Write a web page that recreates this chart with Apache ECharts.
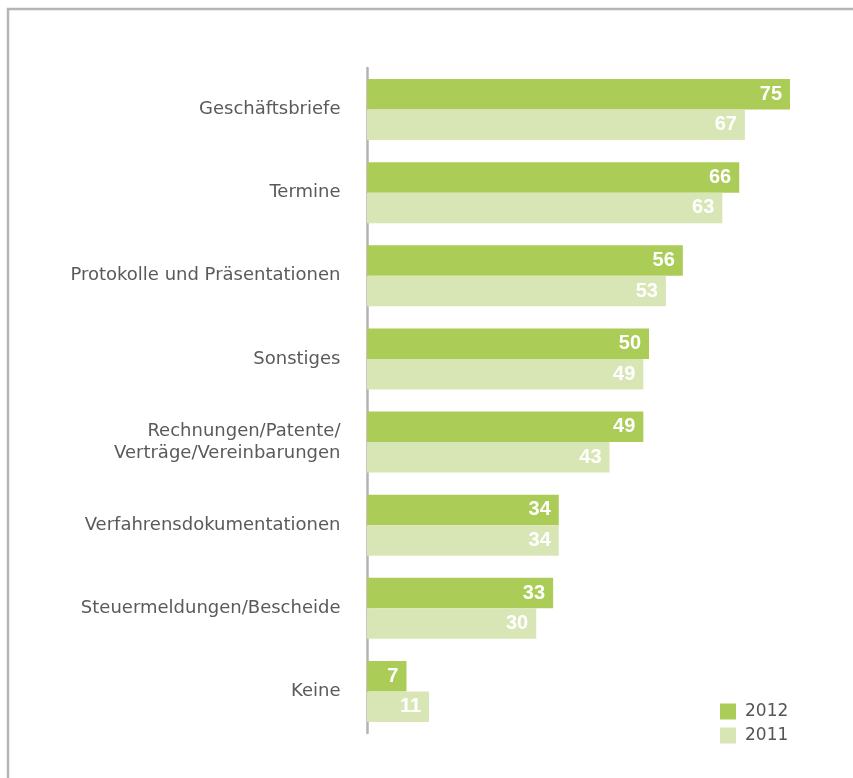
<!DOCTYPE html>
<html>
<head>
<meta charset="utf-8">
<script src="https://cdn.jsdelivr.net/npm/echarts@6/dist/echarts.min.js"></script>
<style>
  html, body { margin: 0; padding: 0; background: #fff; }
  #chart { width: 853px; height: 778px; }
</style>
</head>
<body>
<div id="chart"></div>
<script>
// categories, top to bottom
const categories = [
  'Geschäftsbriefe',
  'Termine',
  'Protokolle und Präsentationen',
  'Sonstiges',
  'Rechnungen/Patente/\nVerträge/Vereinbarungen',
  'Verfahrensdokumentationen',
  'Steuermeldungen/Bescheide',
  'Keine'
];
const values2012 = [75, 66, 56, 50, 49, 34, 33, 7];
const values2011 = [67, 63, 53, 49, 43, 34, 30, 11];

const chart = echarts.init(document.getElementById('chart'));

const valueLabel = {
  show: true,
  position: 'insideRight',
  distance: 8,
  color: '#fff',
  fontFamily: 'Liberation Sans',
  fontWeight: 'bold',
  fontSize: 20
};

chart.setOption({
  backgroundColor: '#fff',
  animation: false,
  graphic: [{
    // grey frame around the figure (open on right and bottom)
    type: 'rect',
    shape: { x: 8, y: 9, width: 900, height: 900 },
    style: { fill: 'none', stroke: '#b5b5b5', lineWidth: 2.5 },
    silent: true
  }],
  legend: {
    orient: 'vertical',
    left: 720,
    top: 703,
    icon: 'rect',
    itemWidth: 16,
    itemHeight: 16,
    itemGap: 7,
    padding: 0,
    textStyle: { color: '#555', fontSize: 17, fontFamily: 'DejaVu Sans', padding: [0, 0, 0, 4] },
    data: ['2012', '2011']
  },
  grid: { left: 367, top: 68, width: 451.2, height: 665, containLabel: false },
  xAxis: {
    type: 'value',
    min: 0,
    max: 80,
    show: false
  },
  yAxis: {
    type: 'category',
    inverse: true,
    offset: 1.5,
    data: categories,
    axisLine: { show: true, lineStyle: { color: '#b3b3b3', width: 2.5 } },
    axisTick: { show: false },
    axisLabel: {
      margin: 25,
      color: '#5a5a5a',
      fontSize: 18,
      fontFamily: 'DejaVu Sans',
      lineHeight: 22,
      align: 'right'
    }
  },
  series: [
    {
      name: '2012',
      type: 'bar',
      data: values2012,
      barWidth: 30.5,
      barGap: '0%',
      itemStyle: { color: '#abcc57' },
      label: valueLabel
    },
    {
      name: '2011',
      type: 'bar',
      data: values2011,
      barWidth: 30.5,
      barGap: '0%',
      itemStyle: { color: '#d8e6b5' },
      label: valueLabel
    }
  ]
});
</script>
</body>
</html>
